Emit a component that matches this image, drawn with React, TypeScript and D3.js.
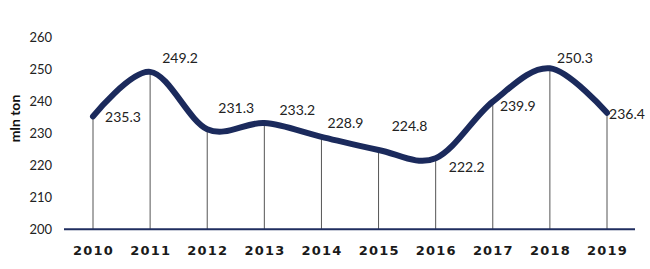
import React from "react";
import * as d3 from "d3";

const years = ["2010", "2011", "2012", "2013", "2014", "2015", "2016", "2017", "2018", "2019"];
const values = [235.3, 249.2, 231.3, 233.2, 228.9, 224.8, 222.2, 239.9, 250.3, 236.4];
const yTicks = [200, 210, 220, 230, 240, 250, 260];
const labelDx = [30, 30, 29, 33, 24, 31, 31, 25, 25, 20];
const labelDy = [1, -14, -21, -13, -14, -24, 9, 4, -10, 1.5];

const W = 650;
const H = 269;

export default function App() {
  const x = d3.scalePoint<string>().domain(years).range([93, 607]);
  const y = d3.scaleLinear().domain([200, 260]).range([229.3, 37.3]);
  const line = d3
    .line<number>()
    .x((_, i) => x(years[i]) as number)
    .y((d) => y(d))
    .curve(d3.curveCardinal.tension(0));

  return (
    <svg
      width={W}
      height={H}
      style={{ position: "absolute", left: 0, top: 0, background: "#fff" }}
    >
      {/* y tick labels */}
      {yTicks.map((t) => (
        <text
          key={t}
          x={52}
          y={y(t)}
          dy="0.36em"
          textAnchor="end"
          fontFamily="Lato"
          fontSize={13}
          fill="#222"
        >
          {t}
        </text>
      ))}
      <text
        transform="translate(20,118.5) rotate(-90)"
        textAnchor="middle"
        fontFamily="Lato"
        fontWeight="bold"
        fontSize={14}
        fill="#111"
      >
        mln ton
      </text>
      {/* drop lines */}
      {values.map((v, i) => (
        <line
          key={"d" + i}
          x1={x(years[i])}
          x2={x(years[i])}
          y1={y(v)}
          y2={y(200)}
          stroke="#555"
          strokeWidth={1}
        />
      ))}
      {/* axis line */}
      <line x1={64} x2={635} y1={y(200)} y2={y(200)} stroke="#1f2d5f" strokeWidth={2} />
      {/* x labels */}
      {years.map((yr) => (
        <text
          key={yr}
          x={(x(yr) as number) + 0.6}
          y={254.5}
          textAnchor="middle"
          fontFamily="DejaVu Sans"
          fontWeight="bold"
          fontSize={13}
          letterSpacing={1.2}
          fill="#1a1a1a"
        >
          {yr}
        </text>
      ))}
      {/* series line */}
      <path
        d={line(values) || ""}
        fill="none"
        stroke="#1b2a5c"
        strokeWidth={6}
        strokeLinecap="round"
        strokeLinejoin="round"
      />
      {/* data labels */}
      {values.map((v, i) => (
        <text
          key={"l" + i}
          x={(x(years[i]) as number) + labelDx[i]}
          y={y(v) + labelDy[i]}
          dy="0.36em"
          textAnchor="middle"
          fontFamily="Lato"
          fontSize={14}
          fill="#222"
        >
          {v.toFixed(1)}
        </text>
      ))}
    </svg>
  );
}
